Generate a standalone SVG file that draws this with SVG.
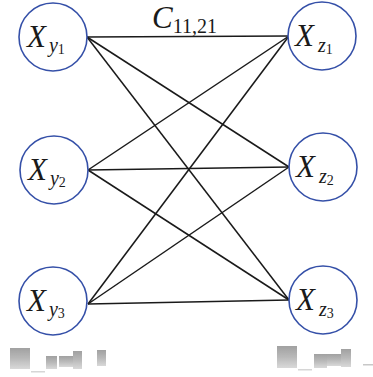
<svg xmlns="http://www.w3.org/2000/svg" width="373" height="377" viewBox="0 0 373 377">
<style>
.node circle{fill:#fff;stroke:#3550a8;stroke-width:1.6}
.edges line{stroke:#1a1a1a;stroke-width:1.5}
text{font-family:"Liberation Serif","DejaVu Serif",serif;fill:#1a1a1a}
.X{font-style:italic;font-size:31px}
.s{font-style:italic;font-size:20px}
.ss{font-style:normal;font-size:14px}
.sub{font-style:normal;font-size:20px}
.art{fill:url(#g)}
</style>
<defs>
<linearGradient id="g" x1="0" y1="0" x2="0" y2="1">
<stop offset="0" stop-color="#8a8a8a"/>
<stop offset="0.5" stop-color="#a8a8a8"/>
<stop offset="1" stop-color="#d0d0d0"/>
</linearGradient>
</defs>
<g class="edges" id="edges">
<line x1="87" y1="37" x2="289" y2="36"/>
<line x1="87" y1="37" x2="289" y2="167"/>
<line x1="87" y1="37" x2="289" y2="300"/>
<line x1="88" y1="170" x2="289" y2="36"/>
<line x1="88" y1="170" x2="289" y2="167"/>
<line x1="88" y1="170" x2="289" y2="300"/>
<line x1="88" y1="304" x2="289" y2="36"/>
<line x1="88" y1="304" x2="289" y2="167"/>
<line x1="88" y1="304" x2="289" y2="300"/>
</g>
<text x="152" y="28" class="X">C<tspan class="sub" dy="5">11,21</tspan></text>
<g class="node" id="y1"><circle cx="53" cy="37" r="34"/><text x="27" y="47" class="X">X<tspan class="s" dx="3" dy="5">y</tspan><tspan class="ss" dy="2">1</tspan></text></g>
<g class="node" id="y2"><circle cx="54" cy="170" r="34"/><text x="28" y="180" class="X">X<tspan class="s" dx="3" dy="5">y</tspan><tspan class="ss" dy="2">2</tspan></text></g>
<g class="node" id="y3"><circle cx="53" cy="301" r="34"/><text x="27" y="311" class="X">X<tspan class="s" dx="3" dy="5">y</tspan><tspan class="ss" dy="2">3</tspan></text></g>
<g class="node" id="z1"><circle cx="322" cy="36" r="34"/><text x="295" y="46" class="X">X<tspan class="s" dx="4" dy="6">z</tspan><tspan class="ss" dy="2">1</tspan></text></g>
<g class="node" id="z2"><circle cx="323" cy="167" r="34"/><text x="296" y="177" class="X">X<tspan class="s" dx="4" dy="6">z</tspan><tspan class="ss" dy="2">2</tspan></text></g>
<g class="node" id="z3"><circle cx="323" cy="300" r="34"/><text x="296" y="310" class="X">X<tspan class="s" dx="4" dy="6">z</tspan><tspan class="ss" dy="2">3</tspan></text></g>
<g id="artifacts" opacity="0.8">
<rect class="art" x="10" y="348" width="20" height="21"/>
<rect x="31" y="371" width="14" height="1.5" fill="#ccc"/>
<rect class="art" x="46" y="356" width="11" height="13"/>
<rect class="art" x="59" y="356" width="14" height="11"/>
<rect class="art" x="73" y="351" width="9" height="18"/>
<rect class="art" x="97" y="350" width="9" height="16"/>
<rect class="art" x="277" y="346" width="20" height="22"/>
<rect x="298" y="369" width="14" height="1.5" fill="#ccc"/>
<rect class="art" x="314" y="354" width="13" height="14"/>
<rect class="art" x="327" y="354" width="14" height="12"/>
<rect class="art" x="341" y="349" width="10" height="18"/>
<rect x="363" y="364" width="10" height="1.5" fill="#bbb"/>
</g>
</svg>
